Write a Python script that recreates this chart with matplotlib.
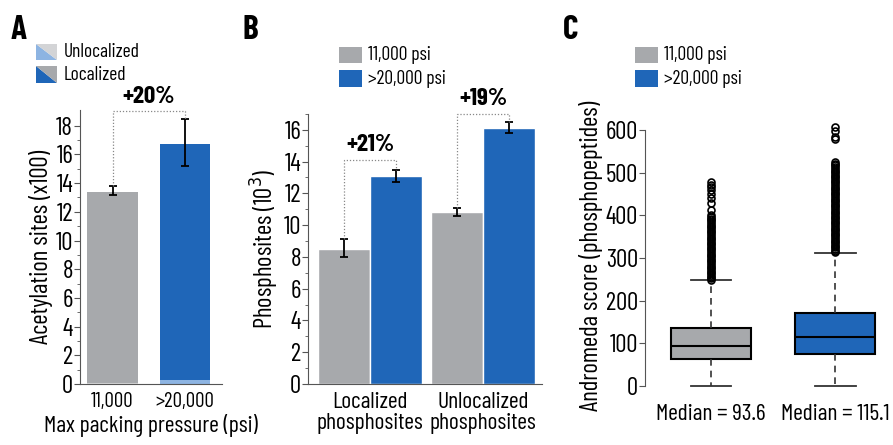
import matplotlib.pyplot as plt
from matplotlib.patches import Polygon, Rectangle

plt.rcParams['font.family'] = ['Barlow Condensed', 'DejaVu Sans']
plt.rcParams['font.stretch'] = 'condensed'

gray = '#a7a9ac'
blue = '#1f66b8'
light_gray = '#d3d4d6'
light_blue = '#8db4e2'

# Panel A
a_labels = ['11,000', '>20,000']
a_unloc = [0.1, 0.3]
a_total = [13.4, 16.75]
a_err_lo = [13.15, 15.2]
a_err_hi = [13.8, 18.5]
a_pct = '+20%'

# Panel B
b_groups = ['Localized\nphosphosites', 'Unlocalized\nphosphosites']
b_low = [8.5, 10.85]
b_high = [13.1, 16.1]
b_low_err = [[8.0, 9.1], [10.6, 11.1]]
b_high_err = [[12.7, 13.5], [15.8, 16.5]]
b_pct = ['+21%', '+19%']

# Panel C
c_labels = ['Median = 93.6', 'Median = 115.1']
c_med = [93.6, 115.1]
c_q1 = [63, 75]
c_q3 = [137, 171]
c_lo = [0, 0]
c_hi = [248, 312]
c_fliers1 = [248, 252, 256, 260, 264, 268, 272, 276, 280, 284, 288, 292, 296, 300,
             304, 308, 312, 316, 320, 324, 328, 332, 336, 340, 344, 348, 352, 356,
             360, 364, 368, 372, 376, 380, 384, 388, 392, 396, 400,
             412, 428, 440, 450, 459, 466, 472, 478]
c_fliers2 = [313, 317, 321, 325, 329, 333, 337, 341, 345, 349, 353, 357, 361, 365,
             369, 373, 377, 381, 385, 389, 393, 397, 401, 405, 409, 413, 417, 421,
             425, 429, 433, 437, 441, 445, 449, 453, 457, 461, 465, 469, 473, 477,
             481, 485, 489, 493, 497, 501, 505, 509, 513, 517, 521, 525,
             578, 584, 598, 606]

fig = plt.figure(figsize=(8.93, 4.45), dpi=100)

# ---- A ----
axA = fig.add_axes([0.0896, 0.137, 0.159, 0.616])
xa = [0, 1]
axA.bar(xa, a_unloc, width=0.7, color=[light_gray, light_blue])
axA.bar(xa, [t - u for t, u in zip(a_total, a_unloc)], bottom=a_unloc, width=0.7,
        color=[gray, blue])
mid = [(l + h) / 2 for l, h in zip(a_err_lo, a_err_hi)]
half = [(h - l) / 2 for l, h in zip(a_err_lo, a_err_hi)]
axA.errorbar(xa, mid, yerr=half, fmt='none', ecolor='black', elinewidth=1.3, capsize=3, capthick=1.3)
axA.plot([0, 0, 1, 1], [a_err_hi[0], 19.0, 19.0, a_err_hi[1]], ls=(0, (1, 1.5)), color='#888888',
         lw=0.9, clip_on=False)
axA.text(0.5, 19.25, a_pct, ha='center', va='bottom', fontsize=18, fontweight='bold', clip_on=False)
axA.set_xlim(-0.448, 1.51)
axA.set_ylim(0, 19.1)
axA.set_yticks(range(0, 19, 2))
axA.set_yticks(range(1, 19, 2), minor=True)
axA.set_xticks(xa)
axA.set_xticklabels(a_labels, fontsize=15)
axA.set_ylabel('Acetylation sites (x100)', fontsize=18, labelpad=2)
axA.set_xlabel('Max packing pressure (psi)', fontsize=17, labelpad=2)

# ---- B ----
axB = fig.add_axes([0.345, 0.137, 0.262, 0.607])
xb = [0, 1]
w = 0.46
xl = [x - w / 2 for x in xb]
xh = [x + w / 2 for x in xb]
axB.bar(xl, b_low, width=w, color=gray, edgecolor='white', linewidth=1)
axB.bar(xh, b_high, width=w, color=blue, edgecolor='white', linewidth=1)
for xs, errs in [(xl, b_low_err), (xh, b_high_err)]:
    axB.errorbar(xs, [(e[0] + e[1]) / 2 for e in errs], yerr=[(e[1] - e[0]) / 2 for e in errs],
                 fmt='none', ecolor='black', elinewidth=1.3, capsize=3, capthick=1.3)
tops = [14.1, 17.0]
for i in range(2):
    axB.plot([xl[i], xl[i], xh[i], xh[i]], [b_low_err[i][1], tops[i], tops[i], b_high_err[i][1]],
             ls=(0, (1, 1.5)), color='#888888', lw=0.9, clip_on=False)
    axB.text(xb[i], tops[i] + 0.25, b_pct[i], ha='center', va='bottom', fontsize=18,
             fontweight='bold', clip_on=False)
axB.set_xlim(-0.549, 1.52)
axB.set_ylim(0, 17)
axB.set_yticks(range(0, 17, 2))
axB.set_yticks(range(1, 18, 2), minor=True)
axB.set_xticks(xb)
axB.set_xticklabels(b_groups, fontsize=17, linespacing=0.95)
axB.set_ylabel('Phosphosites (10$^3$)', fontsize=18, labelpad=2)

# ---- C ----
axC = fig.add_axes([0.7223, 0.123, 0.274, 0.604])
stats = []
for i in range(2):
    stats.append(dict(med=c_med[i], q1=c_q1[i], q3=c_q3[i], whislo=c_lo[i], whishi=c_hi[i],
                      fliers=[c_fliers1, c_fliers2][i]))
bp = axC.bxp(stats, positions=[1, 2], widths=0.65, patch_artist=True, capwidths=0.33,
             boxprops=dict(edgecolor='black', linewidth=1.5),
             medianprops=dict(color='black', linewidth=1.5),
             whiskerprops=dict(color='#333333', linestyle=(0, (4, 3)), linewidth=1.2),
             capprops=dict(color='#333333', linewidth=1.3),
             flierprops=dict(marker='o', markersize=5, markerfacecolor='none',
                             markeredgecolor='black', markeredgewidth=1.2))
for patch, c in zip(bp['boxes'], [gray, blue]):
    patch.set_facecolor(c)
for f in bp['fliers']:
    f.set_clip_on(False)
axC.set_xlim(0.468, 2.44)
axC.set_ylim(-10, 620)
axC.spines['left'].set_bounds(0, 600)
axC.spines['bottom'].set_visible(False)
axC.set_yticks(range(0, 601, 100))
axC.set_xticks([1, 2])
axC.set_xticklabels(c_labels, fontsize=17)
axC.tick_params(axis='x', length=0, pad=10)
axC.set_ylabel('Andromeda score (phosphopeptides)', fontsize=18, labelpad=2)

for ax in [axA, axB, axC]:
    ax.spines['top'].set_visible(False)
    ax.spines['right'].set_visible(False)
    ax.spines['left'].set_color('#555555')
    ax.spines['bottom'].set_color('#555555')
    ax.tick_params(axis='y', labelsize=18, color='#555555', length=4, pad=1)
    ax.tick_params(axis='y', which='minor', length=2.5, color='#555555')
for ax in [axA, axB]:
    ax.tick_params(axis='x', length=0, pad=6)

# overlay in pixel coords for letters and legends
ov = fig.add_axes([0, 0, 1, 1], zorder=-1)
ov.set_xlim(0, 893)
ov.set_ylim(445, 0)
ov.axis('off')
for x, s in [(11, 'A'), (243, 'B'), (563, 'C')]:
    ov.text(x, 30, s, fontsize=24, fontweight='bold', va='center', ha='left')

# A legend: diagonally split swatches
for (y0, y1), (c1, c2), lab in [((44, 60), (light_blue, light_gray), 'Unlocalized'),
                                  ((66, 83), (blue, gray), 'Localized')]:
    ov.add_patch(Polygon([(36, y0), (36, y1), (57, y1)], closed=True, color=c1, lw=0))
    ov.add_patch(Polygon([(36, y0), (57, y0), (57, y1)], closed=True, color=c2, lw=0))
    ov.text(64, (y0 + y1) / 2, lab, fontsize=14, va='center', ha='left')

for xs in [339, 635]:
    for (y0, y1), c, lab in [((47, 63), gray, '11,000 psi'), ((70, 87), blue, '>20,000 psi')]:
        ov.add_patch(Rectangle((xs, y0), 23, y1 - y0, color=c, lw=0))
        ov.text(xs + 29, (y0 + y1) / 2, lab, fontsize=14, va='center', ha='left')

fig.savefig('out.png', dpi=100)
